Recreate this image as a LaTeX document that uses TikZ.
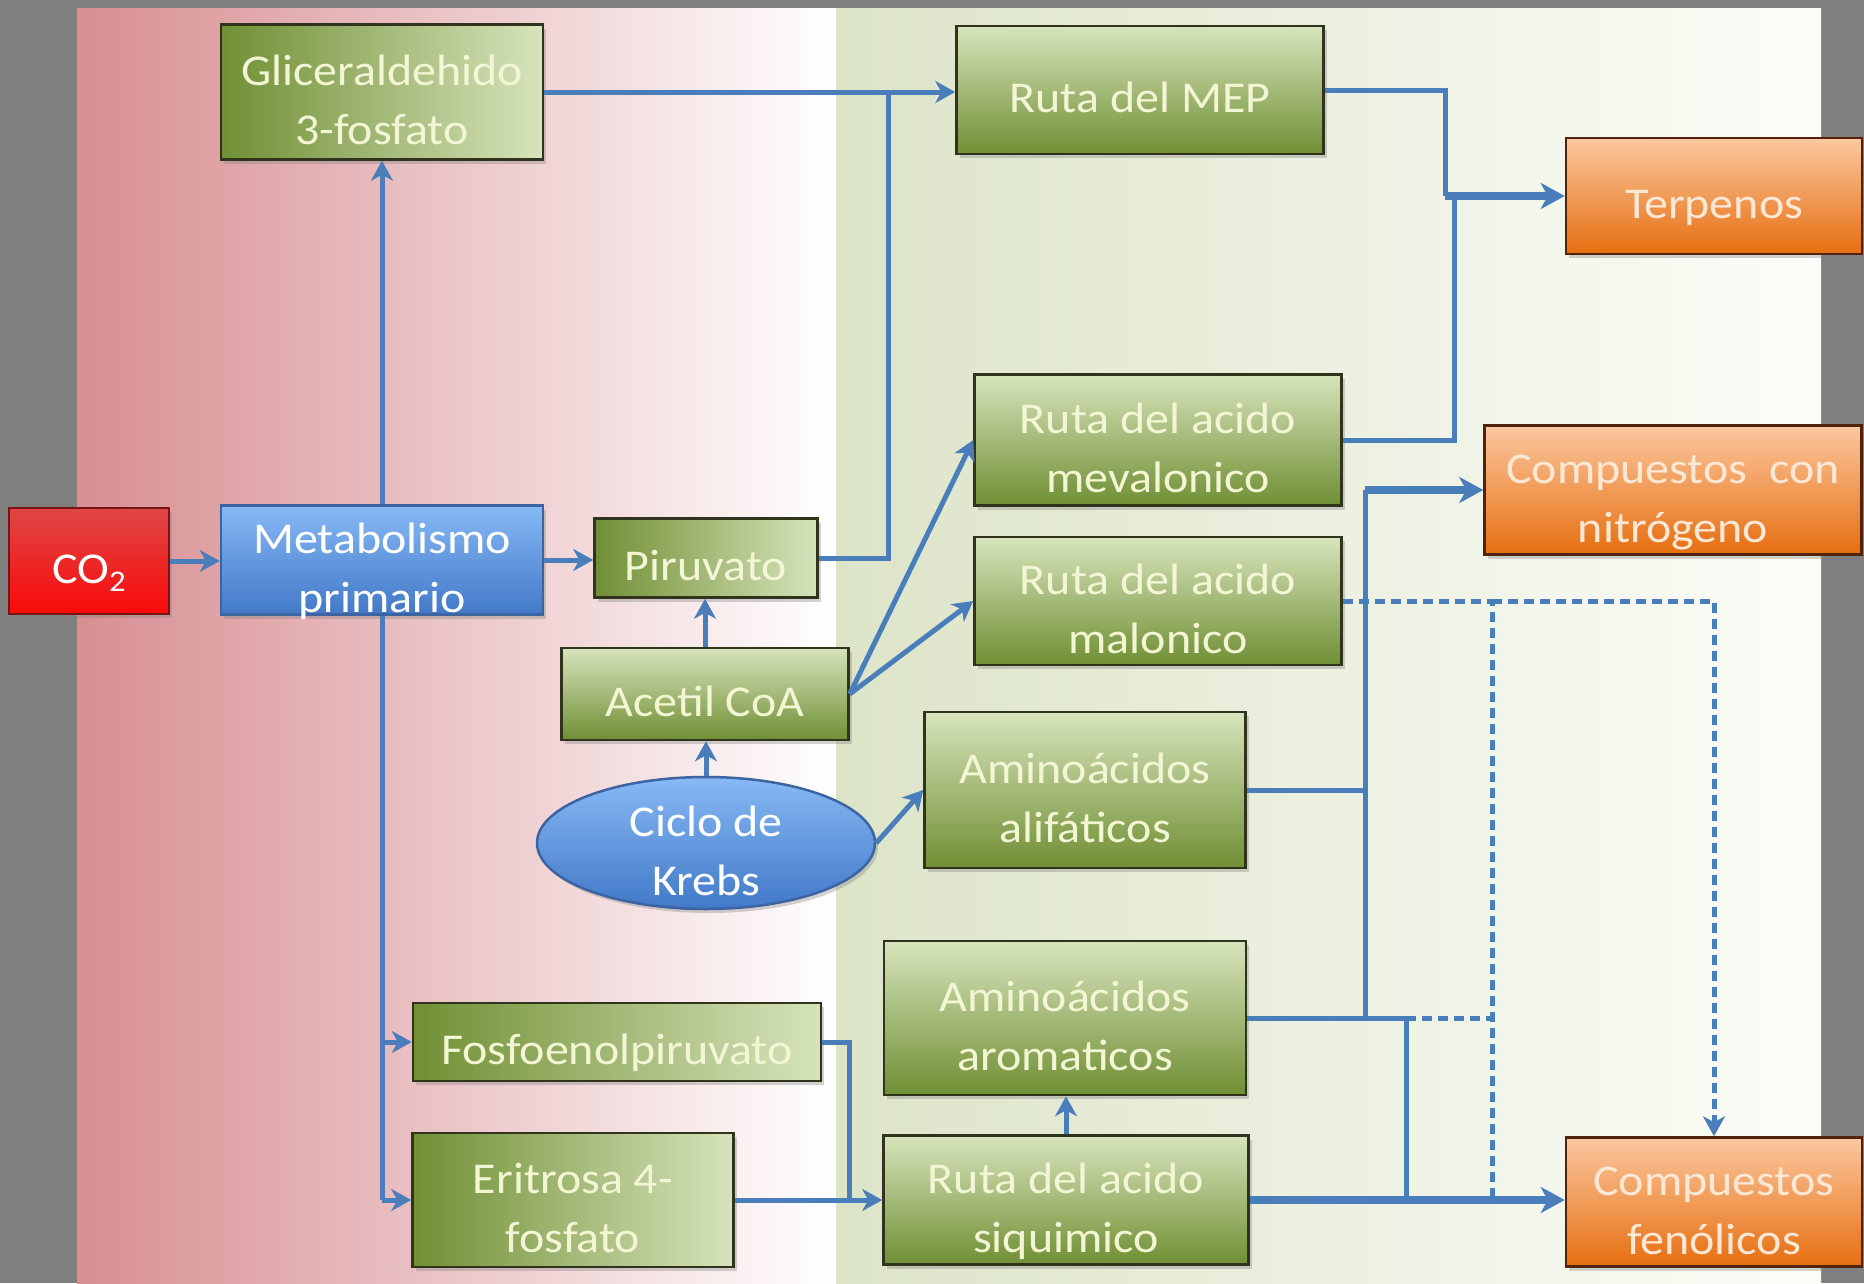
\documentclass[tikz,border=0pt]{standalone}
\usepackage{fontspec}
\setmainfont{Carlito}[FakeStretch=1.09]
\usetikzlibrary{arrows.meta,shadows,shapes.geometric}
\newcommand{\hs}{\rule{0pt}{55pt}}
\definecolor{bggray}{RGB}{127,127,127}
\definecolor{redL}{RGB}{216,142,146}
\definecolor{greenL}{RGB}{220,228,200}
\definecolor{greenR}{RGB}{252,253,249}
\definecolor{gdark}{RGB}{112,143,52}
\definecolor{glight}{RGB}{215,228,188}
\definecolor{odark}{RGB}{230,110,15}
\definecolor{olight}{RGB}{251,200,160}
\definecolor{bdark}{RGB}{66,121,200}
\definecolor{blight}{RGB}{135,185,245}
\definecolor{rtop}{RGB}{222,70,70}
\definecolor{rbot}{RGB}{250,10,10}
\definecolor{connc}{RGB}{74,126,187}
\definecolor{txtg}{RGB}{243,246,212}
\definecolor{txto}{RGB}{253,232,214}
\definecolor{bordg}{RGB}{48,52,28}
\definecolor{bordo}{RGB}{80,35,10}
\definecolor{bordb}{RGB}{60,100,160}
\definecolor{bordr}{RGB}{120,20,20}
\begin{document}
\begin{tikzpicture}[x=1pt,y=-1pt,
  box/.style={draw=bordg, line width=2.5pt, inner sep=0pt, align=center,
    font=\fontsize{44}{59}\selectfont, text=txtg,
    execute at end node={\rule[-10pt]{0pt}{10pt}},
    drop shadow={opacity=0.35,shadow xshift=3pt,shadow yshift=-4pt}},
  gh/.style={box, left color=gdark, right color=glight},
  gv/.style={box, top color=glight, bottom color=gdark},
  ob/.style={box, draw=bordo, top color=olight, bottom color=odark, text=txto},
  conn/.style={draw=connc, line width=5pt},
  tip/.style={-{Stealth[length=20pt,width=22pt,inset=6pt]}},
  arr/.style={conn, tip},
  thick arr/.style={conn, line width=8pt, -{Stealth[length=24pt,width=26pt,inset=7pt]}},
  dconn/.style={conn, dash pattern=on 10pt off 6pt},
]
\useasboundingbox (0,0) rectangle (1864,1283);
\fill[bggray] (0,0) rectangle (1864,1283);
\shade[left color=redL, right color=white] (77,8) rectangle (836,1283);
\shade[left color=greenL, right color=greenR] (836,8) rectangle (1821,1283);

% nodes
\node[gh, minimum width=322pt, minimum height=135pt] (glic) at (382,92) {\hs Gliceraldehido\\3-fosfato};
\node[gv, minimum width=367pt, minimum height=128pt] (mep) at (1140,90) {\hs Ruta del MEP};
\node[ob, minimum width=296pt, minimum height=116pt] (terp) at (1714,196) {\hs Terpenos};
\node[gv, minimum width=367pt, minimum height=131pt] (mev) at (1158,440) {\hs Ruta del acido\\mevalonico};
\node[ob, minimum width=377pt, minimum height=129pt] (nitro) at (1673,490) {\hs Compuestos\ \ con\\nitrógeno};
\node[gv, minimum width=367pt, minimum height=128pt] (mal) at (1158,601) {\hs Ruta del acido\\malonico};
\node[box, draw=bordr, top color=rtop, bottom color=rbot, text=white, minimum width=160pt, minimum height=106pt] (co2) at (89,561) {\hs CO\raisebox{-8pt}{\fontsize{30}{30}\selectfont 2}};
\node[box, draw=bordb, top color=blight, bottom color=bdark, text=white, inner ysep=-8pt, minimum width=322pt, minimum height=109pt] (meta) at (382,560) {\hs Metabolismo\\primario};
\node[gh, minimum width=223pt, minimum height=79pt] (piru) at (706,558) {\hs Piruvato};
\node[gv, minimum width=287pt, minimum height=92pt] (acet) at (705,694) {\hs Acetil CoA};
\node[box, ellipse, draw=bordb, top color=blight, bottom color=bdark, text=white, inner ysep=-17pt, minimum width=338pt, minimum height=132pt] (krebs) at (706,843) {\hs Ciclo de\\Krebs};
\node[gv, minimum width=321pt, minimum height=156pt] (alif) at (1085,790) {\hs Aminoácidos\\alifáticos};
\node[gv, minimum width=362pt, minimum height=154pt] (arom) at (1065,1018) {\hs Aminoácidos\\aromaticos};
\node[gh, minimum width=408pt, minimum height=78pt] (fosfo) at (617,1042) {\hs Fosfoenolpiruvato};
\node[gh, minimum width=321pt, minimum height=134pt] (erit) at (573,1200) {\hs Eritrosa 4-\\fosfato};
\node[gv, minimum width=365pt, minimum height=129pt] (siq) at (1066,1200) {\hs Ruta del acido\\siquimico};
\node[ob, minimum width=296pt, minimum height=129pt] (fenol) at (1714,1202) {\hs Compuestos\\fenólicos};

% junction coordinates
\coordinate (j1) at (888,92);
\coordinate (t1) at (1445,196);
\coordinate (t2) at (1454,196);
\coordinate (n1) at (1365,490);
\coordinate (f1) at (1406,1202);
\coordinate (s1) at (849,1200);
\coordinate (dv1) at (1492,601);
\coordinate (dv2) at (1492,1202);

% connectors
\draw[arr] (co2.east) -- (co2.east -| meta.west);
\draw[arr] (meta.east) -- (meta.east -| piru.west);
\draw[arr] (meta.north) -- (glic.south);
\draw[conn] (meta.south) -- (meta.south |- erit.west);
\draw[arr] (meta.south |- fosfo.west) -- (fosfo.west);
\draw[arr] (meta.south |- erit.west) -- (erit.west);
\draw[conn] (piru.east) -| (j1);
\draw[arr] (glic.east) -- (glic.east -| mep.west);
\draw[arr] (acet.north) -- (acet.north |- piru.south);
\draw[arr] (krebs.north) -- (krebs.north |- acet.south);
\draw[arr] (acet.east) -- (mev.west);
\draw[arr] (acet.east) -- (mal.west);
\draw[arr] (krebs.east) -- (alif.west);
\draw[conn] (mep.east) -| (t1);
\draw[conn] (mev.east) -| (t2);
\draw[thick arr] (t1) -- (t1 -| terp.west);
\draw[conn] (alif.east) -- (alif.east -| n1);
\draw[conn] (arom.east) -- (arom.east -| n1) -- (n1);
\draw[thick arr] (n1) -- (nitro.west);
\draw[conn] (arom.east) -| (f1);
\draw[arr] (siq.north) -- (siq.north |- arom.south);
\draw[conn] (fosfo.east) -| (s1);
\draw[arr] (erit.east) -- (erit.east -| siq.west);
\draw[dconn] (mal.east) -- (dv1) -- (dv2);
\draw[dconn] (arom.east -| f1) -- (arom.east -| dv1);
\draw[dconn, tip] (dv1) -- (dv1 -| fenol.north) -- (fenol.north);
\draw[thick arr] (siq.east) -- (siq.east -| fenol.west);
\end{tikzpicture}
\end{document}
